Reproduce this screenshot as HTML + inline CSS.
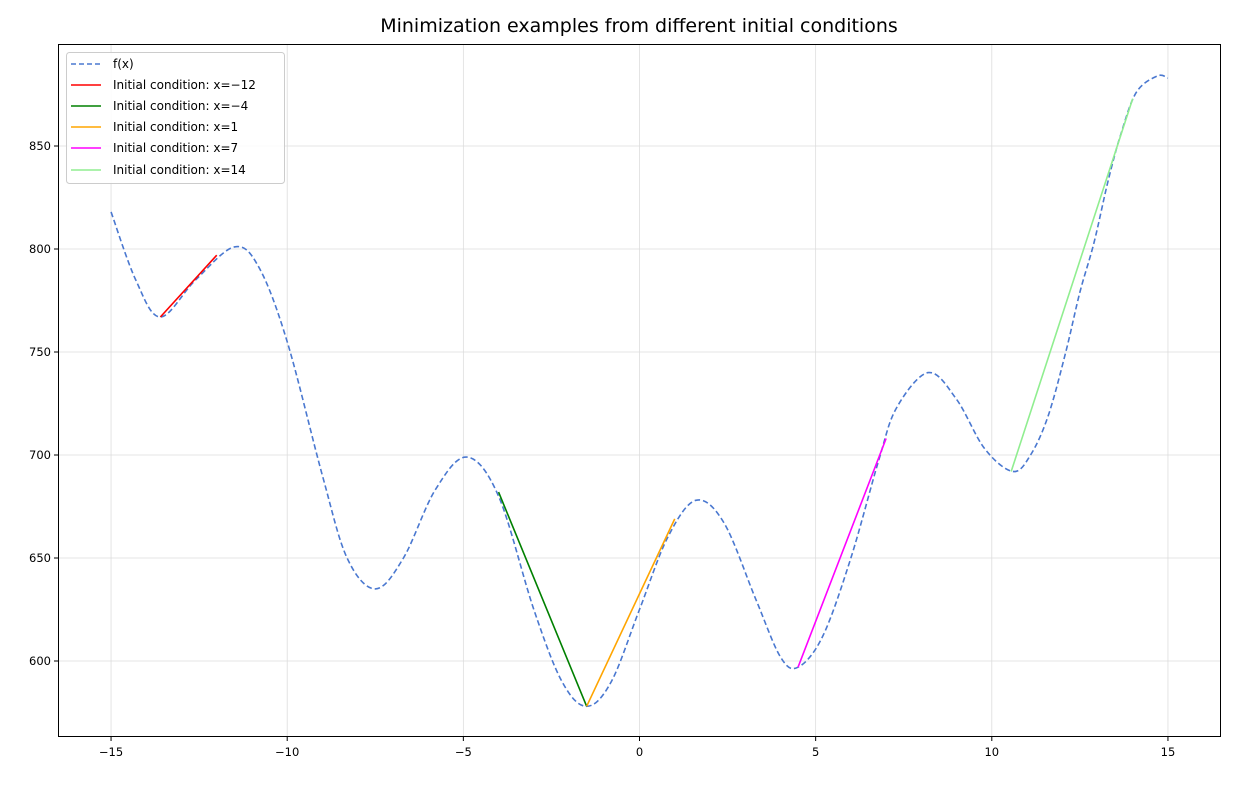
<!DOCTYPE html>
<html><head><meta charset="utf-8"><style>
body{margin:0;background:#fff;}
svg text{font-family:"DejaVu Sans","Liberation Sans",sans-serif;}
</style></head><body>
<svg id="chart" width="1235" height="782" xmlns="http://www.w3.org/2000/svg">
<text x="639" y="32" text-anchor="middle" font-size="19">Minimization examples from different initial conditions</text>
<g id="grid"></g>
<g id="ticks"></g>
<g id="series"></g>
<rect x="58.5" y="44.5" width="1162" height="692" fill="none" stroke="#000" stroke-width="1"/>
<g>
<rect x="66.5" y="52.5" width="218" height="131" rx="3" fill="#fff" fill-opacity="0.85" stroke="#ccc"/>
<line x1="71" y1="64" x2="101" y2="64" stroke="#4a78d0" stroke-width="1.5" stroke-dasharray="5,3"/>
<text x="113" y="68" font-size="12">f(x)</text>
<line x1="71" y1="85" x2="101" y2="85" stroke="#ff0000" stroke-width="1.5"/>
<text x="113" y="89" font-size="12">Initial condition: x=−12</text>
<line x1="71" y1="106" x2="101" y2="106" stroke="#008000" stroke-width="1.5"/>
<text x="113" y="110" font-size="12">Initial condition: x=−4</text>
<line x1="71" y1="127" x2="101" y2="127" stroke="#ffa500" stroke-width="1.5"/>
<text x="113" y="131" font-size="12">Initial condition: x=1</text>
<line x1="71" y1="148" x2="101" y2="148" stroke="#ff00ff" stroke-width="1.5"/>
<text x="113" y="152" font-size="12">Initial condition: x=7</text>
<line x1="71" y1="170" x2="101" y2="170" stroke="#90ee90" stroke-width="1.5"/>
<text x="113" y="174" font-size="12">Initial condition: x=14</text>
</g>
</svg>
<script>
const fxX=[-15,-14.3,-13.6,-12.6,-11.5,-10.8,-10,-9,-8.3,-7.5,-6.7,-5.8,-4.9,-4,-3,-2.2,-1.5,-0.8,0,0.8,1.6,2.4,3.3,4,4.5,5.2,6,6.8,7.3,8.2,9,9.8,10.6,11.1,11.6,12.1,12.5,12.9,13.3,13.65,14.1,14.7,15];
const fxY=[818,785,767,785,801,791,755,690,650,635,650,683,699,680,625,590,578,590,625,660,678,667,630,602,597,612,650,698,723,740,727,703,692,700,719,750,779,803,833,855,876,884,883];
const pathNames=['x-12','x-4','x1','x7','x14'];
const pathColors=['#ff0000','#008000','#ffa500','#ff00ff','#90ee90'];
const pathX=[[-12,-13.6],[-4,-1.5],[1,-1.5],[7,4.5],[14,10.55]];
const pathY=[[797,767],[682,578],[669,578],[708,597],[873,692]];
const xTicks=[-15,-10,-5,0,5,10,15];
const yTicks=[600,650,700,750,800,850];
const X=v=>639.5+v*35.23;
const Y=v=>661-(v-600)*2.06;
const NS='http://www.w3.org/2000/svg';
function mk(t,a,p){const e=document.createElementNS(NS,t);for(const k in a)e.setAttribute(k,a[k]);p.appendChild(e);return e;}
const grid=document.getElementById('grid'),ticks=document.getElementById('ticks'),series=document.getElementById('series');
xTicks.forEach(t=>{const x=X(t);
 const g=mk('line',{x1:x,y1:44,x2:x,y2:737,stroke:'#dddddd','stroke-width':0.8},grid);
 
 
 mk('line',{x1:x,y1:737,x2:x,y2:741,stroke:'#000'},ticks);
 const tx=mk('text',{x:x,y:756,'text-anchor':'middle','font-size':11.5},ticks);
 
 
 tx.textContent=t<0?'−'+(-t):t;});
yTicks.forEach(t=>{const y=Y(t);
 const g=mk('line',{x1:58,y1:y,x2:1221,y2:y,stroke:'#dddddd','stroke-width':0.8},grid);
 
 
 mk('line',{x1:54,y1:y,x2:58,y2:y,stroke:'#000'},ticks);
 const tx=mk('text',{x:51,y:y+4,'text-anchor':'end','font-size':11.5},ticks);
 
 
 tx.textContent=t;});
const P=fxX.map((v,i)=>[X(v),Y(fxY[i])]);
let d='M'+P[0][0]+','+P[0][1];
for(let i=0;i<P.length-1;i++){const p0=P[Math.max(0,i-1)],p1=P[i],p2=P[i+1],p3=P[Math.min(P.length-1,i+2)];
 d+=' C'+(p1[0]+(p2[0]-p0[0])/6)+','+(p1[1]+(p2[1]-p0[1])/6)+' '+(p2[0]-(p3[0]-p1[0])/6)+','+(p2[1]-(p3[1]-p1[1])/6)+' '+p2[0]+','+p2[1];}
const fp=mk('path',{d:d,fill:'none',stroke:'#4a78d0','stroke-width':1.6,'stroke-dasharray':'5.5,3'},series);


pathX.forEach((xs,i)=>{const pts=xs.map((v,j)=>X(v)+','+Y(pathY[i][j])).join(' ');
 const pl=mk('polyline',{points:pts,fill:'none',stroke:pathColors[i],'stroke-width':1.6},series);
 
 });
</script>
</body></html>
